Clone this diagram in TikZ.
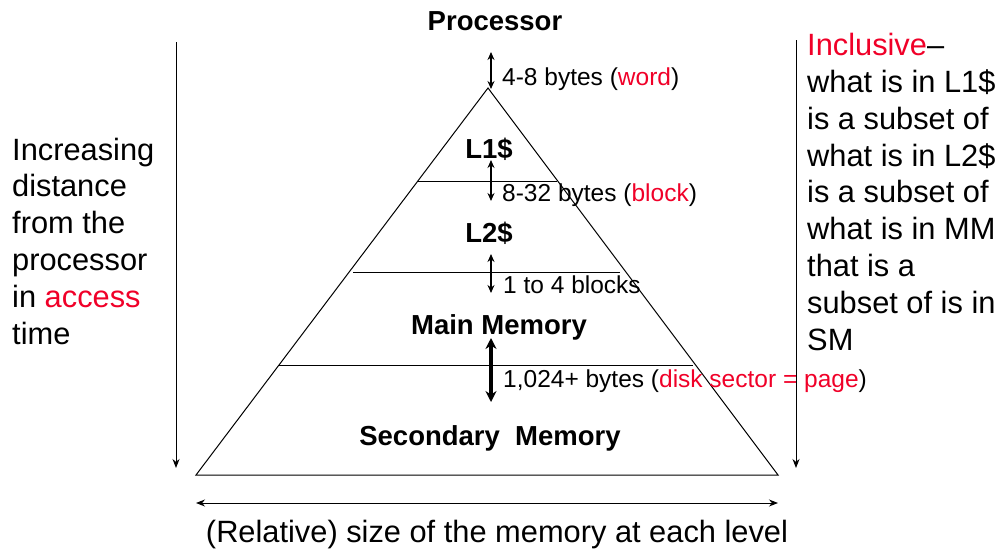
\documentclass[tikz,border=0pt]{standalone}
\usepackage{fontspec}
\setmainfont{Liberation Sans}
\usetikzlibrary{arrows.meta}
\definecolor{hired}{RGB}{240,0,40}
\tikzset{
  big/.style={font=\fontsize{30.8}{36.8}\selectfont, inner sep=0pt},
  lvl/.style={font=\fontsize{27.5}{33}\selectfont\bfseries, inner sep=0pt, anchor=base},
  small/.style={font=\fontsize{24.5}{29}\selectfont, inner sep=0pt, anchor=base west},
  thinarrow/.style={line width=1.5pt, {Stealth[length=8pt,width=7pt]}-{Stealth[length=8pt,width=7pt]}},
  fatarrow/.style={line width=3.2pt, {Stealth[length=11pt,width=11pt]}-{Stealth[length=11pt,width=11pt]}},
  sidearrow/.style={line width=1pt, -{Stealth[length=9pt,width=7pt]}},
  level/.style={line width=1pt}
}
\begin{document}
\begin{tikzpicture}[x=1pt,y=-1pt]
\useasboundingbox (0,0) rectangle (997,552);
% pyramid
\coordinate (apex) at (488,88);
\coordinate (bl) at (196,475);
\coordinate (br) at (778,475);
\draw[level] (apex) -- (bl) -- (br) -- cycle;
\draw[level] (417,181) -- (557,181);
\draw[level] (353,272) -- (620,272);
\draw[level] (278,365) -- (693,365);
% level labels
\node[lvl] (proc) at (495,30) {Processor};
\node[lvl] (l1) at (489,158) {L1\$};
\node[lvl] (l2) at (489,242) {L2\$};
\node[lvl] (mm) at (499,334) {Main Memory};
\node[lvl] (sm) at (490,445) {Secondary\ \ Memory};
% transfer arrows
\coordinate (a1t) at (491,52); \coordinate (a1b) at (491,89);
\coordinate (a2t) at (491,160); \coordinate (a2b) at (491,201);
\coordinate (a3t) at (491,254); \coordinate (a3b) at (491,293);
\coordinate (a4t) at (491,338); \coordinate (a4b) at (491,402);
\draw[thinarrow] (a1t) -- (a1b);
\draw[thinarrow] (a2t) -- (a2b);
\draw[thinarrow] (a3t) -- (a3b);
\draw[fatarrow] (a4t) -- (a4b);
\node[small] (t1) at (502,85) {4-8 bytes (\textcolor{hired}{word})};
\node[small] (t2) at (502,201) {8-32 bytes (\textcolor{hired}{block})};
\node[small] (t3) at (503,293) {1 to 4 blocks};
\node[small] (t4) at (503,387) {1,024+ bytes (\textcolor{hired}{disk sector = page})};
% side arrows
\coordinate (lt) at (176,42); \coordinate (lb) at (176,468);
\coordinate (rt) at (796,40); \coordinate (rb) at (796,468);
\draw[sidearrow] (lt) -- (lb);
\draw[sidearrow] (rt) -- (rb);
\coordinate (hl) at (196,503); \coordinate (hr) at (778,503);
\draw[line width=1pt, {Stealth[length=9pt,width=7pt]}-{Stealth[length=9pt,width=7pt]}] (hl) -- (hr);
% left text
\node[big, align=left, anchor=base west] (left) at (12,344) {Increasing\\distance\\from the\\processor\\in \textcolor{hired}{access}\\time};
% right text
\node[big, align=left, anchor=base west] (right) at (807,350) {\textcolor{hired}{Inclusive}--\\what is in L1\$\\is a subset of\\what is in L2\$\\is a subset of\\what is in MM\\that is a\\subset of is in\\SM};
% bottom text
\node[big, anchor=base] (bottom) at (497,542) {(Relative) size of the memory at each level};
\end{tikzpicture}
\end{document}
